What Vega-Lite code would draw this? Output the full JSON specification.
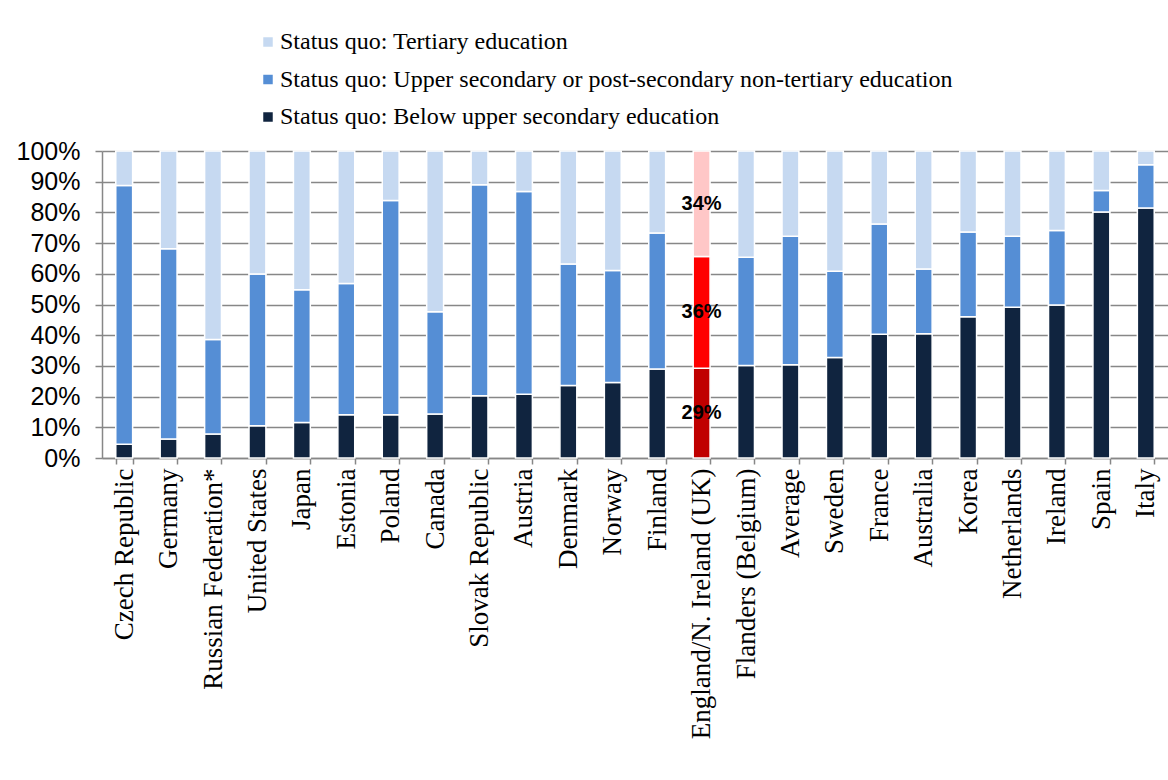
{
  "$schema": "https://vega.github.io/schema/vega-lite/v6.json",
  "autosize": {"type": "none"},
  "padding": {"left": 102, "top": 151, "right": 0, "bottom": 322},
  "width": 1066,
  "height": 307,
  "background": "white",
  "config": {
    "view": {"stroke": null},
    "legend": {"labelFont": "Liberation Serif", "labelFontSize": 24, "labelColor": "black"}
  },
  "data": {
    "values": [
      {"country": "Czech Republic", "Below": 0.045, "Upper": 0.843, "Tertiary": 0.112},
      {"country": "Germany", "Below": 0.062, "Upper": 0.620, "Tertiary": 0.318},
      {"country": "Russian Federation*", "Below": 0.078, "Upper": 0.308, "Tertiary": 0.614},
      {"country": "United States", "Below": 0.105, "Upper": 0.494, "Tertiary": 0.401},
      {"country": "Japan", "Below": 0.116, "Upper": 0.432, "Tertiary": 0.452},
      {"country": "Estonia", "Below": 0.141, "Upper": 0.427, "Tertiary": 0.432},
      {"country": "Poland", "Below": 0.141, "Upper": 0.698, "Tertiary": 0.161},
      {"country": "Canada", "Below": 0.143, "Upper": 0.333, "Tertiary": 0.524},
      {"country": "Slovak Republic", "Below": 0.203, "Upper": 0.687, "Tertiary": 0.110},
      {"country": "Austria", "Below": 0.208, "Upper": 0.660, "Tertiary": 0.132},
      {"country": "Denmark", "Below": 0.236, "Upper": 0.396, "Tertiary": 0.368},
      {"country": "Norway", "Below": 0.246, "Upper": 0.365, "Tertiary": 0.389},
      {"country": "Finland", "Below": 0.290, "Upper": 0.443, "Tertiary": 0.267},
      {"country": "England/N. Ireland (UK)", "Below": 0.292, "Upper": 0.364, "Tertiary": 0.344},
      {"country": "Flanders (Belgium)", "Below": 0.301, "Upper": 0.353, "Tertiary": 0.346},
      {"country": "Average", "Below": 0.304, "Upper": 0.418, "Tertiary": 0.278},
      {"country": "Sweden", "Below": 0.327, "Upper": 0.281, "Tertiary": 0.392},
      {"country": "France", "Below": 0.403, "Upper": 0.359, "Tertiary": 0.238},
      {"country": "Australia", "Below": 0.405, "Upper": 0.211, "Tertiary": 0.384},
      {"country": "Korea", "Below": 0.460, "Upper": 0.276, "Tertiary": 0.264},
      {"country": "Netherlands", "Below": 0.491, "Upper": 0.231, "Tertiary": 0.278},
      {"country": "Ireland", "Below": 0.498, "Upper": 0.243, "Tertiary": 0.259},
      {"country": "Spain", "Below": 0.801, "Upper": 0.070, "Tertiary": 0.129},
      {"country": "Italy", "Below": 0.814, "Upper": 0.141, "Tertiary": 0.045}
    ]
  },
  "transform": [
    {"fold": ["Below", "Upper", "Tertiary"], "as": ["level", "value"]},
    {"calculate": "indexof(['Below','Upper','Tertiary'], datum.level)", "as": "ord"},
    {"stack": "value", "groupby": ["country"], "sort": [{"field": "ord", "order": "ascending"}], "as": ["v0", "v1"]},
    {"calculate": "(datum.v0 + datum.v1) / 2", "as": "mid"}
  ],
  "encoding": {
    "x": {
      "field": "country",
      "type": "nominal",
      "sort": null,
      "scale": {"paddingInner": 0.62, "paddingOuter": 0.31},
      "axis": {
        "title": null,
        "labelAngle": -90,
        "labelFont": "Liberation Serif",
        "labelFontSize": 27,
        "labelColor": "black",
        "labelLimit": 400,
        "labelPadding": 4,
        "labelOverlap": false,
        "tickBand": "extent",
        "tickSize": 6,
        "tickWidth": 1.5,
        "tickColor": "#878787",
        "domainColor": "#878787",
        "domainWidth": 1.5,
        "grid": false
      }
    }
  },
  "layer": [
    {
      "mark": {"type": "bar", "stroke": "white", "strokeWidth": 1.5},
      "encoding": {
        "y": {
          "field": "v0",
          "type": "quantitative",
          "scale": {"domain": [0, 1], "nice": false},
          "axis": {
            "title": null,
            "values": [0, 0.1, 0.2, 0.3, 0.4, 0.5, 0.6, 0.7, 0.8, 0.9, 1],
            "format": ".0%",
            "labelFont": "Liberation Sans",
            "labelFontSize": 25,
            "labelColor": "black",
            "labelPadding": 15,
            "labelOverlap": false,
            "tickSize": 7,
            "tickWidth": 1.5,
            "tickColor": "#878787",
            "domainColor": "#878787",
            "domainWidth": 1.5,
            "grid": true,
            "gridColor": "#878787",
            "gridWidth": 1.5
          }
        },
        "y2": {"field": "v1"},
        "color": {
          "field": "level",
          "type": "nominal",
          "scale": {"domain": ["Tertiary", "Upper", "Below"], "range": ["#C6D9F1", "#558ED5", "#10243F"]},
          "condition": [
            {"test": "datum.country === 'England/N. Ireland (UK)' && datum.level === 'Below'", "value": "#C00000"},
            {"test": "datum.country === 'England/N. Ireland (UK)' && datum.level === 'Upper'", "value": "#FF0000"},
            {"test": "datum.country === 'England/N. Ireland (UK)' && datum.level === 'Tertiary'", "value": "#FFC7C7"}
          ],
          "legend": {
            "title": null,
            "orient": "none",
            "legendX": 154,
            "legendY": -121,
            "direction": "vertical",
            "symbolType": "square",
            "symbolSize": 90,
            "symbolStrokeWidth": 0,
            "labelFont": "Liberation Serif",
            "labelFontSize": 24,
            "labelColor": "black",
            "labelOffset": 0,
            "labelLimit": 800,
            "rowPadding": 13.5,
            "labelExpr": "datum.label === 'Tertiary' ? 'Status quo: Tertiary education' : datum.label === 'Upper' ? 'Status quo: Upper secondary or post-secondary non-tertiary education' : 'Status quo: Below upper secondary education'"
          }
        }
      }
    },
    {
      "transform": [{"filter": "datum.country === 'England/N. Ireland (UK)'"}],
      "mark": {"type": "text", "font": "Liberation Sans", "fontWeight": "bold", "fontSize": 20, "color": "black", "baseline": "middle", "align": "center"},
      "encoding": {
        "y": {
          "field": "mid",
          "type": "quantitative",
          "axis": {
            "title": null,
            "values": [0, 0.1, 0.2, 0.3, 0.4, 0.5, 0.6, 0.7, 0.8, 0.9, 1],
            "format": ".0%",
            "labelFont": "Liberation Sans",
            "labelFontSize": 25,
            "labelColor": "black",
            "labelPadding": 15,
            "labelOverlap": false,
            "tickSize": 7,
            "tickWidth": 1.5,
            "tickColor": "#878787",
            "domainColor": "#878787",
            "domainWidth": 1.5,
            "grid": true,
            "gridColor": "#878787",
            "gridWidth": 1.5
          }
        },
        "text": {"field": "value", "type": "quantitative", "format": ".0%"}
      }
    }
  ]
}
